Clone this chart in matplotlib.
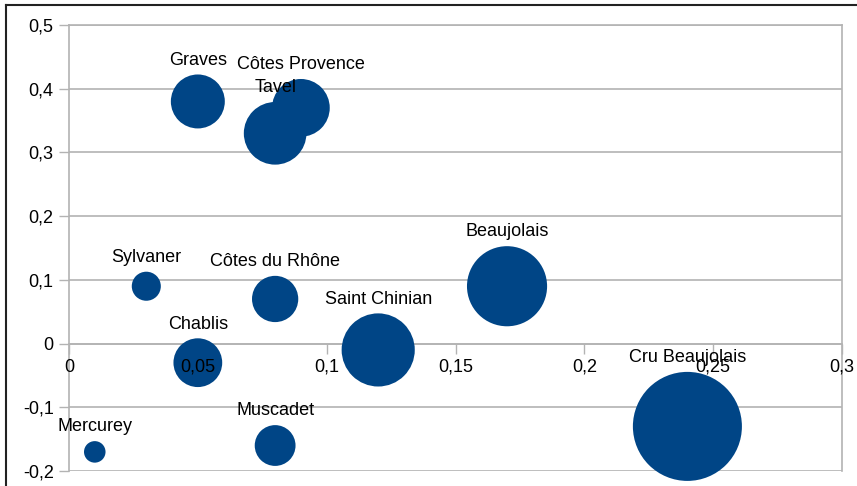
#!/usr/bin/env python3
"""
Bubble chart of wine regions (LibreOffice style)
"""
import numpy as np
import matplotlib
matplotlib.use("Agg")
import matplotlib.pyplot as plt
from matplotlib.lines import Line2D
from matplotlib.markers import TICKDOWN
from matplotlib.ticker import FuncFormatter

# Data
wines = ["Graves", "Côtes Provence", "Tavel", "Sylvaner", "Côtes du Rhône",
         "Beaujolais", "Saint Chinian", "Chablis", "Cru Beaujolais",
         "Mercurey", "Muscadet"]
x_vals = [0.05, 0.09, 0.08, 0.03, 0.08, 0.17, 0.12, 0.05, 0.24, 0.01, 0.08]
y_vals = [0.38, 0.37, 0.33, 0.09, 0.07, 0.09, -0.01, -0.03, -0.13, -0.17, -0.16]
bubble_size = [0.245, 0.28, 0.33, 0.071, 0.18, 0.54, 0.45, 0.20, 1.0, 0.039, 0.14]

x_ticks = [0, 0.05, 0.1, 0.15, 0.2, 0.25, 0.3]
y_ticks = [-0.2, -0.1, 0, 0.1, 0.2, 0.3, 0.4, 0.5]

BLUE = "#004586"
GRID = "#b3b3b3"
FONT = "Liberation Sans"

plt.rcParams['font.family'] = [FONT, 'DejaVu Sans']

fig = plt.figure(figsize=(8.57, 4.86), dpi=100)
ax = fig.add_axes([69 / 857, 1 - 471 / 486, (842 - 69) / 857, (471 - 25) / 486])

# bubbles: area proportional to size, largest ~78pt across
s_max = 78.5 ** 2
sizes = np.array(bubble_size) * s_max
ax.scatter(x_vals, y_vals, s=sizes, color=BLUE, linewidths=0, zorder=1, clip_on=False)

# labels just above each bubble
for name, x, y, s in zip(wines, x_vals, y_vals, sizes):
    ax.annotate(name, (x, y), xytext=(0, np.sqrt(s) / 2 + 7), textcoords='offset points',
                ha='center', va='baseline', fontsize=13, color='black', zorder=3)

ax.set_xlim(0, 0.3)
ax.set_ylim(-0.2, 0.5)
ax.set_xticks(x_ticks)
ax.set_yticks(y_ticks)

# grid drawn below bubbles
for yt in y_ticks:
    ax.axhline(yt, color=GRID, linewidth=1.2, zorder=0)

# x tick marks on the zero line, kept under the bubbles
ax.plot(x_ticks, np.zeros(len(x_ticks)), linestyle='none', marker=TICKDOWN,
        markersize=7, markeredgewidth=1, color=GRID, zorder=0.5, clip_on=False)

fmt = FuncFormatter(lambda v, pos: f"{round(v, 2) + 0.0:g}".replace('.', ','))
ax.xaxis.set_major_formatter(fmt)
ax.yaxis.set_major_formatter(fmt)

ax.spines['bottom'].set_position(('data', 0))
for side in ['left', 'right', 'top', 'bottom']:
    ax.spines[side].set_color(GRID)
    ax.spines[side].set_linewidth(1.2)
    ax.spines[side].set_zorder(0)

ax.tick_params(axis='x', direction='out', length=0, labelsize=13, labelcolor='black', pad=11)
ax.tick_params(axis='y', direction='out', length=7, width=1, color=GRID,
               labelsize=13, labelcolor='black', pad=4)

# outer frame (top and left edges of the original screenshot)
fig.add_artist(Line2D([6 / 857, 1], [1 - 5 / 486, 1 - 5 / 486], color='#222222', linewidth=1.5))
fig.add_artist(Line2D([6 / 857, 6 / 857], [0, 1 - 5 / 486], color='#222222', linewidth=1.5))

fig.savefig("out.png", dpi=100)
